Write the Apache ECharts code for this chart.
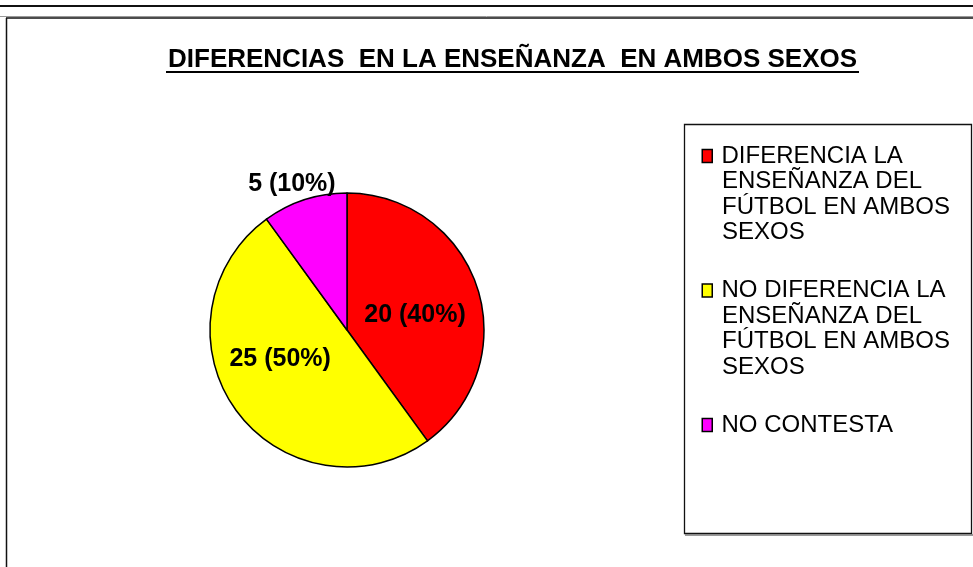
<!DOCTYPE html>
<html>
<head>
<meta charset="utf-8">
<script src="https://cdn.jsdelivr.net/npm/echarts@6/dist/echarts.min.js"></script>
<style>html,body{margin:0;padding:0;background:#fff;}#c{width:973px;height:567px;}</style>
</head>
<body>
<div id="c"></div>
<script>
var titleText = 'DIFERENCIAS  EN LA ENSEÑANZA  EN AMBOS SEXOS';
var categories = [
  'DIFERENCIA LA ENSEÑANZA DEL FÚTBOL EN AMBOS SEXOS',
  'NO DIFERENCIA LA ENSEÑANZA DEL FÚTBOL EN AMBOS SEXOS',
  'NO CONTESTA'
];
var values = [20, 25, 5];
var colors = ['#FF0000', '#FFFF00', '#FF00FF'];
var labelOffsets = [[0, 7], [-9, -13], [-33, -78]];

function wrap(name, maxChars) {
  var words = name.split(' '), lines = [], cur = '';
  words.forEach(function (w) {
    if (cur === '') cur = w;
    else if ((cur + ' ' + w).length <= maxChars) cur += ' ' + w;
    else { lines.push(cur); cur = w; }
  });
  if (cur) lines.push(cur);
  return lines;
}

var rich = {
  t: { fontFamily: 'Arial, "Liberation Sans", sans-serif', fontSize: 24, lineHeight: 25.5, color: '#000' },
  g: { width: 10, height: 10 },
  ind: { width: 19, height: 10 }
};
colors.forEach(function (c, i) {
  rich['sq' + i] = { width: 8.5, height: 8.5, backgroundColor: c, borderColor: '#000', borderWidth: 1.5, padding: [0, 0, 3, 0] };
});

var chart = echarts.init(document.getElementById('c'), null, { renderer: 'canvas' });
chart.setOption({
  animation: false,
  backgroundColor: '#fff',
  title: {
    text: titleText,
    left: 168,
    top: 47,
    padding: 0,
    textStyle: { fontFamily: 'Arial, "Liberation Sans", sans-serif', fontSize: 26, fontWeight: 'bold', color: '#000' }
  },
  legend: {
    orient: 'vertical',
    left: 698,
    top: 144,
    padding: 0,
    itemGap: 34,
    itemWidth: 0,
    itemHeight: 0,
    icon: 'none',
    data: categories,
    formatter: function (name) {
      var i = categories.indexOf(name);
      var lines = wrap(name, 16);
      return lines.map(function (l, k) {
        return (k === 0 ? '{sq' + i + '|}{g|}' : '{ind|}') + '{t|' + l + '}';
      }).join('\n');
    },
    textStyle: { rich: rich }
  },
  graphic: [
    { type: 'line', shape: { x1: 0, y1: 6, x2: 973, y2: 6 }, style: { stroke: '#111', lineWidth: 2 } },
    { type: 'line', shape: { x1: 0, y1: 16.5, x2: 973, y2: 16.5 }, style: { stroke: '#999', lineWidth: 1 } },
    { type: 'line', shape: { x1: 6, y1: 18, x2: 973, y2: 18 }, style: { stroke: '#111', lineWidth: 1.5 } },
    { type: 'line', shape: { x1: 6.5, y1: 18, x2: 6.5, y2: 567 }, style: { stroke: '#111', lineWidth: 1.5 } },
    { type: 'line', shape: { x1: 166, y1: 72, x2: 859, y2: 72 }, style: { stroke: '#000', lineWidth: 2.2 } },
    { type: 'rect', shape: { x: 684.5, y: 124.5, width: 287, height: 409 }, style: { fill: 'none', stroke: '#111', lineWidth: 1.3 } },
    { type: 'line', shape: { x1: 685, y1: 535, x2: 973, y2: 535 }, style: { stroke: '#777', lineWidth: 1.5 } }
  ],
  series: [{
    type: 'pie',
    center: [347, 330],
    radius: 137,
    startAngle: 90,
    clockwise: true,
    avoidLabelOverlap: false,
    itemStyle: { borderColor: '#000', borderWidth: 1.5 },
    label: {
      show: true,
      position: 'inside',
      formatter: '{c} ({d}%)',
      fontFamily: 'Arial, "Liberation Sans", sans-serif',
      fontSize: 25,
      fontWeight: 'bold',
      color: '#000'
    },
    labelLine: { show: false },
    emphasis: { disabled: true },
    data: categories.map(function (n, i) {
      return { name: n, value: values[i], itemStyle: { color: colors[i] }, label: { offset: labelOffsets[i] } };
    })
  }]
});
</script>
</body>
</html>
